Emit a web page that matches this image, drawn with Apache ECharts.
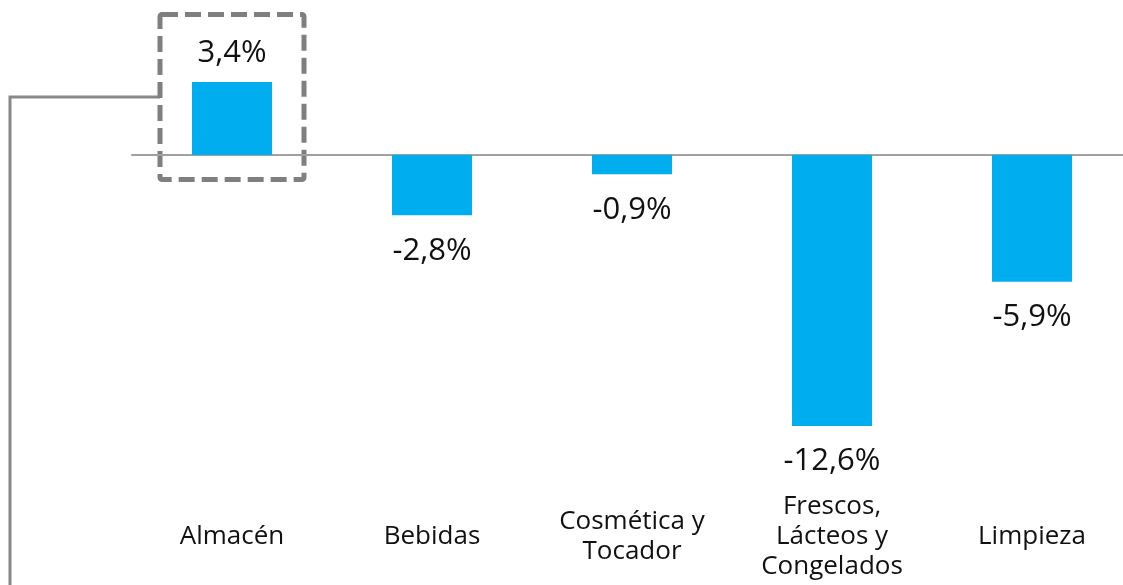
<!DOCTYPE html>
<html>
<head>
<meta charset="utf-8">
<script src="https://cdn.jsdelivr.net/npm/echarts@6/dist/echarts.min.js"></script>
<style>
html,body{margin:0;padding:0;background:#fff;overflow:hidden;width:1123px;height:585px;}
#chart{width:1132px;height:585px;}
</style>
</head>
<body>
<div id="chart"></div>
<script>
const categories = ['Almacén', 'Bebidas', 'Cosmética y\nTocador', 'Frescos,\nLácteos y\nCongelados', 'Limpieza'];
const values = [3.4, -2.8, -0.9, -12.6, -5.9];

const FONT = '"Open Sans", sans-serif';
const chart = echarts.init(document.getElementById('chart'), null, {renderer: 'canvas'});

function fmt(v) { return v.toFixed(1).replace('.', ',') + '%'; }

chart.setOption({
  animation: false,
  grid: {left: 132, right: 0, top: 26, height: 430},
  xAxis: [
    {
      type: 'category', data: categories,
      axisLine: {show: true, onZero: true, lineStyle: {color: '#a0a0a0', width: 2}},
      axisTick: {show: false}, axisLabel: {show: false}
    },
    {
      type: 'category', data: categories, position: 'bottom',
      axisLine: {show: false, onZero: false}, axisTick: {show: false},
      axisLabel: {
        show: true, interval: 0, margin: 81, verticalAlign: 'middle',
        fontFamily: FONT, fontSize: 26, lineHeight: 30, color: '#111'
      }
    }
  ],
  yAxis: {
    type: 'value', min: -14, max: 6, interval: 2,
    show: false, splitLine: {show: false}
  },
  series: [{
    type: 'bar', barWidth: 80, xAxisIndex: 0,
    itemStyle: {color: '#00AEEF'},
    label: {
      show: true, fontFamily: FONT, fontSize: 31, color: '#111',
      formatter: p => fmt(p.value)
    },
    data: values.map(v => ({
      value: v,
      label: v < 0 ? {position: 'bottom', distance: 20} : {position: 'top', distance: 13}
    }))
  }]
});

// Highlight annotation around the first category
const c0 = chart.convertToPixel({xAxisIndex: 0, yAxisIndex: 0}, [0, 0]);
chart.setOption({
  graphic: [
    {
      type: 'polyline', shape: {points: [[c0[0] - 72, 97], [10, 97], [10, 590]]},
      style: {fill: 'none', stroke: '#888888', lineWidth: 3}
    },
    {
      type: 'rect', shape: {x: c0[0] - 72, y: 14.5, width: 144, height: c0[1] + 24.5 - 14.5, r: 2},
      style: {fill: 'none', stroke: '#7f7f7f', lineWidth: 5, lineDash: [16, 7]}
    }
  ]
});
</script>
</body>
</html>
